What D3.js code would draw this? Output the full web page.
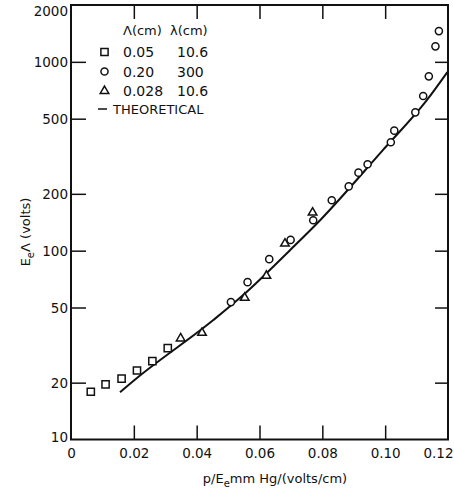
<!DOCTYPE html>
<html>
<meta charset="utf-8">
<head>
    <script src="https://d3js.org/d3.v7.min.js"></script>
    <style>
        body { margin: 0; background: #fff; }
        text { font-family: "DejaVu Sans", sans-serif; fill: #111; }
    </style>
</head>
<body>
    <script>
        // data
        var squares = [
            [0.0063, 17.9], [0.0110, 19.6], [0.0161, 21.0],
            [0.0210, 23.2], [0.0259, 26.0], [0.0308, 30.5]
        ];
        var triangles = [
            [0.0349, 34.3], [0.0417, 36.7], [0.0553, 56.3],
            [0.0622, 73.6], [0.0681, 109], [0.0769, 159]
        ];
        var circles = [
            [0.0509, 53.4], [0.0562, 68.1], [0.0631, 90.2], [0.0699, 114],
            [0.0771, 145], [0.0830, 185], [0.0884, 219], [0.0915, 259],
            [0.0944, 287], [0.1018, 375], [0.1029, 432], [0.1096, 540],
            [0.1121, 659], [0.1139, 838], [0.1160, 1208], [0.1171, 1455]
        ];
        var theory = [
            [0.0156, 17.8], [0.0209, 21.1], [0.0453, 42.9], [0.0548, 58.2],
            [0.0697, 100.6], [0.0793, 145], [0.0992, 340], [0.1132, 625],
            [0.1198, 883]
        ];
        var xTicks = [0, 0.02, 0.04, 0.06, 0.08, 0.10, 0.12];
        var yTicks = [10, 20, 50, 100, 200, 500, 1000, 2000];
        var legendRows = [
            {sym: "square", a: "0.05", b: "10.6"},
            {sym: "circle", a: "0.20", b: "300"},
            {sym: "triangle", a: "0.028", b: "10.6"}
        ];

        var width = 454, height = 502;

        var svg = d3.select("body").append("svg")
            .attr("width", width)
            .attr("height", height);

        var x = d3.scaleLinear().domain([0, 0.12]).range([71, 448]);
        var y = d3.scaleLog().domain([10, 2000]).range([439.5, 5]);

        var fmtX = function(d) { return d === 0 ? "0" : d.toFixed(2); };

        // bottom axis, ticks pointing up
        var gx = svg.append("g")
            .attr("transform", "translate(0," + y(10) + ")")
            .call(d3.axisBottom(x).tickValues(xTicks).tickFormat(fmtX)
                .tickSizeInner(-14).tickSizeOuter(0).tickPadding(6));
        gx.selectAll("text").style("font-size", "13.5px").attr("dy", "0.9em")
            .style("font-family", "DejaVu Sans");
        gx.selectAll(".tick").filter(function(d) { return d === 0.12; })
            .select("text").attr("text-anchor", "end").attr("x", 5);

        // left axis, ticks pointing right
        var gy = svg.append("g")
            .attr("transform", "translate(" + x(0) + ",0)")
            .call(d3.axisLeft(y).tickValues(yTicks).tickFormat(d3.format("d"))
                .tickSizeInner(-15).tickSizeOuter(0).tickPadding(3));
        gy.selectAll("text").style("font-size", "13.5px")
            .style("font-family", "DejaVu Sans")
            .attr("dy", function(d) { return d === 2000 ? "0.75em" : d === 10 ? "0.15em" : "0.35em"; });

        // top and right ticks, no labels
        svg.append("g")
            .attr("transform", "translate(0," + y(2000) + ")")
            .call(d3.axisTop(x).tickValues(xTicks.slice(1, -1)).tickFormat("")
                .tickSizeInner(-14).tickSizeOuter(0));
        svg.append("g")
            .attr("transform", "translate(" + x(0.12) + ",0)")
            .call(d3.axisRight(y).tickValues(yTicks.slice(1, -1)).tickFormat("")
                .tickSizeInner(-13).tickSizeOuter(0));

        svg.selectAll(".domain").remove();
        svg.selectAll(".tick line").attr("stroke", "#111").attr("stroke-width", 1.5);
        // hide ticks lying on the frame
        gx.selectAll(".tick").filter(function(d) { return d === 0 || d === 0.12; })
            .select("line").remove();
        gy.selectAll(".tick").filter(function(d) { return d === 10 || d === 2000; })
            .select("line").remove();

        // frame
        svg.append("rect")
            .attr("x", x(0)).attr("y", y(2000))
            .attr("width", x(0.12) - x(0))
            .attr("height", y(10) - y(2000))
            .attr("fill", "none")
            .attr("stroke", "#111")
            .attr("stroke-width", 2);

        // theoretical curve
        var line = d3.line()
            .x(function(d) { return x(d[0]); })
            .y(function(d) { return y(d[1]); })
            .curve(d3.curveMonotoneX);
        svg.append("path")
            .datum(theory)
            .attr("d", line)
            .attr("fill", "none")
            .attr("stroke", "#111")
            .attr("stroke-width", 2);

        function marker(sel, type) {
            var sym = type === "square" ? d3.symbolSquare : type === "circle" ? d3.symbolCircle : d3.symbolTriangle;
            var size = type === "square" ? 52 : type === "circle" ? 40 : 32;
            sel.append("path")
                .attr("d", d3.symbol().type(sym).size(size))
                .attr("fill", "#fff")
                .attr("stroke", "#111")
                .attr("stroke-width", 1.5);
        }

        [[squares, "square"], [circles, "circle"], [triangles, "triangle"]].forEach(function(s) {
            svg.append("g").selectAll("g")
                .data(s[0])
                .enter().append("g")
                .attr("transform", function(d) { return "translate(" + x(d[0]) + "," + y(d[1]) + ")"; })
                .call(marker, s[1]);
        });

        // legend
        var lg = svg.append("g");
        lg.append("text").attr("x", 123).attr("y", 35).style("font-size", "13px").text("Λ(cm)");
        lg.append("text").attr("x", 170).attr("y", 35).style("font-size", "13px").text("λ(cm)");
        legendRows.forEach(function(r, i) {
            var yy = 52 + i * 19.5;
            var g = lg.append("g").attr("transform", "translate(104.5," + yy + ")");
            marker(g, r.sym);
            lg.append("text").attr("x", 123).attr("y", yy).attr("dy", "0.38em")
                .style("font-size", "14px").text(r.a);
            lg.append("text").attr("x", 177).attr("y", yy).attr("dy", "0.38em")
                .style("font-size", "14px").text(r.b);
        });
        lg.append("line").attr("x1", 98).attr("x2", 107).attr("y1", 109).attr("y2", 109)
            .attr("stroke", "#111").attr("stroke-width", 1.5);
        lg.append("text").attr("x", 113).attr("y", 109).attr("dy", "0.38em")
            .style("font-size", "13px").text("THEORETICAL");

        // axis titles
        var yt = svg.append("text")
            .attr("transform", "translate(30,232) rotate(-90)")
            .attr("text-anchor", "middle")
            .style("font-size", "13px");
        yt.append("tspan").text("E");
        yt.append("tspan").attr("dy", 4).style("font-size", "10px").text("e");
        yt.append("tspan").attr("dy", -4).text("Λ (volts)");

        var xt = svg.append("text")
            .attr("x", 275).attr("y", 483)
            .attr("text-anchor", "middle")
            .style("font-size", "13px");
        xt.append("tspan").text("p/E");
        xt.append("tspan").attr("dy", 4).style("font-size", "10px").text("e");
        xt.append("tspan").attr("dy", -4).text("mm Hg/(volts/cm)");
    </script>
</body>
</html>
